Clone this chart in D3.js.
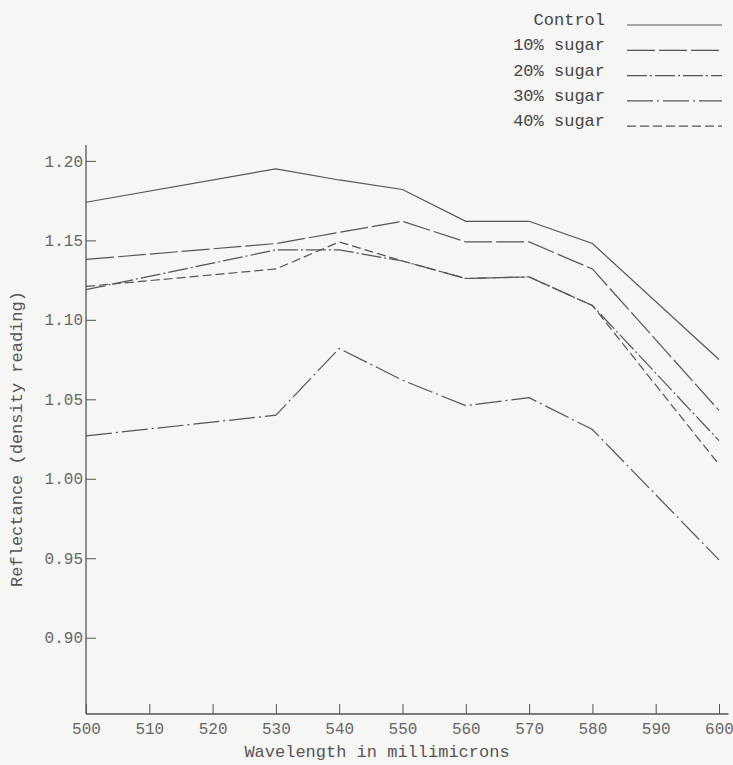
<!DOCTYPE html>
<html>
<head>
<meta charset="utf-8">
<script src="https://cdn.jsdelivr.net/npm/d3@7"></script>
<style>
  body { margin: 0; background: #f6f6f4; }
  svg { display: block; }
  text { font-family: "Liberation Mono", "DejaVu Sans Mono", monospace; }
</style>
</head>
<body>
<svg class="chart"></svg>
<script>
// wavelengths where readings were taken (millimicrons)
var wavelengths = [500, 530, 540, 550, 560, 570, 580, 600];

// reflectance (density reading) per series
var control = [1.174, 1.195, 1.188, 1.182, 1.162, 1.162, 1.148, 1.075];
var sugar10 = [1.138, 1.148, 1.155, 1.162, 1.149, 1.149, 1.132, 1.043];
var sugar20 = [1.119, 1.144, 1.144, 1.137, 1.126, 1.127, 1.109, 1.024];
var sugar30 = [1.027, 1.040, 1.082, 1.062, 1.046, 1.051, 1.031, 0.949];
var sugar40 = [1.121, 1.132, 1.149, 1.137, 1.126, 1.127, 1.109, 1.009];

var seriesNames = ["Control", "10% sugar", "20% sugar", "30% sugar", "40% sugar"];

// tick labels
var xTicks = [500, 510, 520, 530, 540, 550, 560, 570, 580, 590, 600];
var yTicks = [0.90, 0.95, 1.00, 1.05, 1.10, 1.15, 1.20];

var width = 733,
    height = 765;

var ink = "#555";

// one dash pattern per series, like a typewriter chart
var dashes = ["none", "28,4", "20,3,2,3", "26,4,2,4", "9,4"];

var series = [control, sugar10, sugar20, sugar30, sugar40].map(function(vals, i) {
    return { name: seriesNames[i], dash: dashes[i],
             points: vals.map(function(v, j) { return { w: wavelengths[j], r: v }; }) };
});

// scales
var x = d3.scaleLinear()
    .domain([500, 600])
    .range([86, 719]);

var y = d3.scaleLinear()
    .domain([0.852, 1.21])
    .range([714, 145]);

var chart = d3.select(".chart")
    .attr("width", width)
    .attr("height", height);

// y axis: ticks point inward
var yAxis = chart.append("g")
    .attr("transform", "translate(" + x(500) + ",0)")
    .call(d3.axisLeft(y).tickValues(yTicks).tickSize(-10).tickFormat(d3.format(".2f")));

yAxis.select(".domain").remove();
yAxis.selectAll("line").attr("stroke", ink);
yAxis.selectAll("text")
    .attr("x", -3)
    .attr("fill", "#666")
    .style("font-size", "16px");

// x axis: ticks point up
var xAxis = chart.append("g")
    .attr("transform", "translate(0," + y(0.852) + ")")
    .call(d3.axisBottom(x).tickValues(xTicks).tickSize(-10));

xAxis.select(".domain").remove();
xAxis.selectAll("line").attr("stroke", ink);
xAxis.selectAll("text")
    .attr("y", 9)
    .attr("fill", "#666")
    .style("font-size", "16px");

// axis lines drawn by hand so they run past the last tick
chart.append("line")
    .attr("x1", x(500)).attr("x2", x(500))
    .attr("y1", y(1.21)).attr("y2", y(0.852))
    .attr("stroke", ink).attr("stroke-width", 1.3);

chart.append("line")
    .attr("x1", x(500)).attr("x2", x(601.5))
    .attr("y1", y(0.852)).attr("y2", y(0.852))
    .attr("stroke", ink).attr("stroke-width", 1.3);

// axis titles
chart.append("text")
    .attr("x", 377)
    .attr("y", 757)
    .attr("text-anchor", "middle")
    .attr("fill", "#555")
    .style("font-size", "17px")
    .text("Wavelength in millimicrons");

chart.append("text")
    .attr("transform", "translate(22,439) rotate(-90)")
    .attr("text-anchor", "middle")
    .attr("fill", "#555")
    .style("font-size", "17px")
    .text("Reflectance (density reading)");

// the lines
var line = d3.line()
    .x(function(d) { return x(d.w); })
    .y(function(d) { return y(d.r); });

chart.selectAll(".series")
    .data(series)
  .enter().append("path")
    .attr("class", "series")
    .attr("d", function(d) { return line(d.points); })
    .attr("fill", "none")
    .attr("stroke", ink)
    .attr("stroke-width", 1.2)
    .attr("stroke-dasharray", function(d) { return d.dash; });

// legend in the top right corner
var legend = chart.selectAll(".legend")
    .data(series)
  .enter().append("g")
    .attr("class", "legend")
    .attr("transform", function(d, i) { return "translate(0," + (25 + i * 25.3) + ")"; });

legend.append("text")
    .attr("x", 605)
    .attr("y", 0)
    .attr("text-anchor", "end")
    .attr("fill", "#444")
    .style("font-size", "17px")
    .text(function(d) { return d.name; });

legend.append("line")
    .attr("x1", 627).attr("x2", 722)
    .attr("y1", 0).attr("y2", 0)
    .attr("stroke", ink)
    .attr("stroke-width", 1.2)
    .attr("stroke-dasharray", function(d) { return d.dash; });
</script>
</body>
</html>
